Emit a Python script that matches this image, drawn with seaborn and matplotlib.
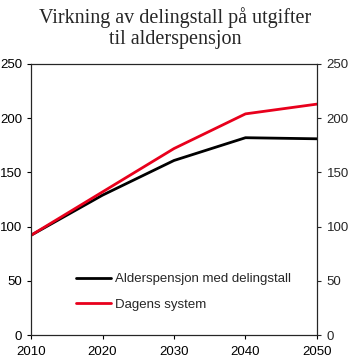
import matplotlib
matplotlib.use("Agg")
import matplotlib.pyplot as plt
import seaborn as sns
import pandas as pd

years = [2010, 2020, 2030, 2040, 2050]
med_delingstall = [92, 129, 161, 182, 181]
dagens_system = [92, 132, 172, 204, 213]
series_names = ["Alderspensjon med delingstall", "Dagens system"]
yticks = [0, 50, 100, 150, 200, 250]

df = pd.DataFrame({
    "year": years * 2,
    "value": med_delingstall + dagens_system,
    "series": [series_names[0]] * len(years) + [series_names[1]] * len(years),
})

sns.set_style("ticks")
plt.rcParams["font.family"] = ["Liberation Sans", "DejaVu Sans"]

fig = plt.figure(figsize=(3.5, 3.63), dpi=100)
ax = fig.add_axes([0.0886, 0.0771, 0.8171, 0.7466])
sns.lineplot(data=df, x="year", y="value", hue="series",
             palette={series_names[0]: "#000000", series_names[1]: "#e8001c"},
             linewidth=2, ax=ax)
ax.set_xlim(2010, 2050)
ax.set_ylim(0, 250)
ax.set_xticks(years)
ax.set_yticks(yticks)
ax.set_xlabel("")
ax.set_ylabel("")
for s in ax.spines.values():
    s.set_linewidth(0.8)
    s.set_color("black")
ax.tick_params(axis="both", direction="out", length=3, width=0.8, labelsize=9.5, colors="black")
ax.tick_params(axis="x", pad=5)
ax.tick_params(axis="y", pad=3.5)
ax2 = ax.twinx()
ax2.set_ylim(0, 250)
ax2.set_yticks(yticks)
ax2.tick_params(axis="y", direction="out", length=3, width=0.8, labelsize=9.5, pad=4)
for s in ax2.spines.values():
    s.set_linewidth(0.8)

leg = ax.legend(loc="lower left", bbox_to_anchor=(0.14, 0.07), frameon=False,
                fontsize=9.5, handlelength=2.6, handletextpad=0.3, labelspacing=1.0,
                borderaxespad=0)
fig.suptitle("Virkning av delingstall på utgifter\ntil alderspensjon",
             fontfamily="Liberation Serif", fontsize=14.5, y=0.98, linespacing=1.12)
fig.savefig("out.png", dpi=100)
